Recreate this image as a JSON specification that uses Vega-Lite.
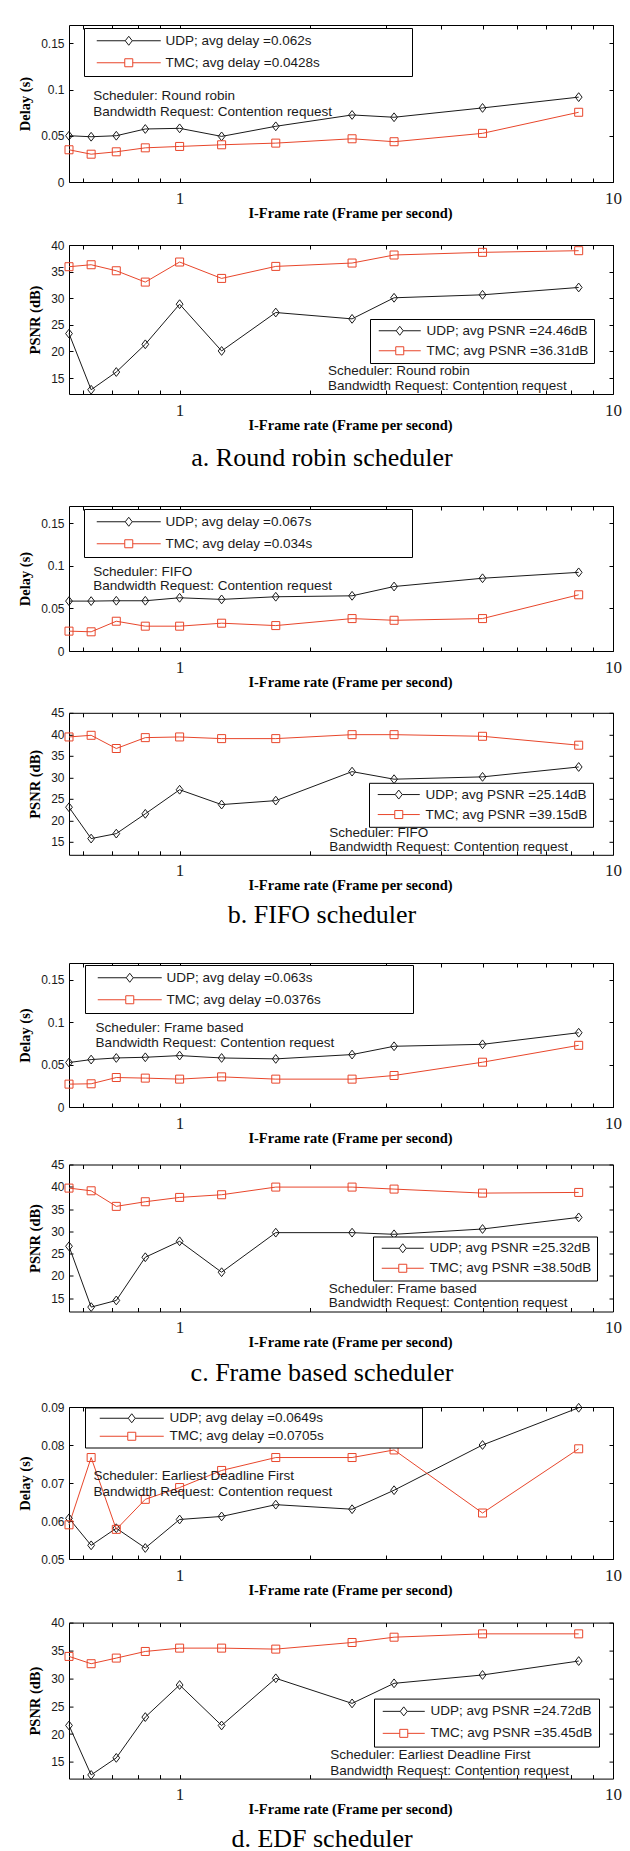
{
"$schema": "https://vega.github.io/schema/vega-lite/v6.json",
"padding": {"left": 16, "top": 24, "right": 5, "bottom": 0},
"background": "white",
"spacing": 0,
"datasets": {
"dA": [
{"x":0.5556,"s":"UDP","v":0.0501},{"x":0.625,"s":"UDP","v":0.049},{"x":0.7143,"s":"UDP","v":0.0501},{"x":0.8333,"s":"UDP","v":0.0574},{"x":1,"s":"UDP","v":0.0581},{"x":1.25,"s":"UDP","v":0.0494},{"x":1.6667,"s":"UDP","v":0.0603},{"x":2.5,"s":"UDP","v":0.0726},{"x":3.125,"s":"UDP","v":0.0701},{"x":5,"s":"UDP","v":0.0802},{"x":8.3333,"s":"UDP","v":0.0919},
{"x":0.5556,"s":"TMC","v":0.0349},{"x":0.625,"s":"TMC","v":0.0301},{"x":0.7143,"s":"TMC","v":0.0327},{"x":0.8333,"s":"TMC","v":0.037},{"x":1,"s":"TMC","v":0.0385},{"x":1.25,"s":"TMC","v":0.0403},{"x":1.6667,"s":"TMC","v":0.0421},{"x":2.5,"s":"TMC","v":0.0468},{"x":3.125,"s":"TMC","v":0.0436},{"x":5,"s":"TMC","v":0.0527},{"x":8.3333,"s":"TMC","v":0.0755}],
"pA": [
{"x":0.5556,"s":"UDP","v":23.35},{"x":0.625,"s":"UDP","v":12.8},{"x":0.7143,"s":"UDP","v":16.13},{"x":0.8333,"s":"UDP","v":21.34},{"x":1,"s":"UDP","v":28.88},{"x":1.25,"s":"UDP","v":20.09},{"x":1.6667,"s":"UDP","v":27.31},{"x":2.5,"s":"UDP","v":26.12},{"x":3.125,"s":"UDP","v":30.08},{"x":5,"s":"UDP","v":30.64},{"x":8.3333,"s":"UDP","v":32.02},
{"x":0.5556,"s":"TMC","v":35.92},{"x":0.625,"s":"TMC","v":36.29},{"x":0.7143,"s":"TMC","v":35.16},{"x":0.8333,"s":"TMC","v":33.03},{"x":1,"s":"TMC","v":36.8},{"x":1.25,"s":"TMC","v":33.72},{"x":1.6667,"s":"TMC","v":35.98},{"x":2.5,"s":"TMC","v":36.61},{"x":3.125,"s":"TMC","v":38.12},{"x":5,"s":"TMC","v":38.62},{"x":8.3333,"s":"TMC","v":38.93}],
"dB": [
{"x":0.5556,"s":"UDP","v":0.0585},{"x":0.625,"s":"UDP","v":0.0585},{"x":0.7143,"s":"UDP","v":0.0589},{"x":0.8333,"s":"UDP","v":0.0589},{"x":1,"s":"UDP","v":0.0624},{"x":1.25,"s":"UDP","v":0.0605},{"x":1.6667,"s":"UDP","v":0.0636},{"x":2.5,"s":"UDP","v":0.0647},{"x":3.125,"s":"UDP","v":0.0756},{"x":5,"s":"UDP","v":0.0853},{"x":8.3333,"s":"UDP","v":0.0922},
{"x":0.5556,"s":"TMC","v":0.0233},{"x":0.625,"s":"TMC","v":0.0225},{"x":0.7143,"s":"TMC","v":0.0349},{"x":0.8333,"s":"TMC","v":0.0291},{"x":1,"s":"TMC","v":0.0291},{"x":1.25,"s":"TMC","v":0.0326},{"x":1.6667,"s":"TMC","v":0.0298},{"x":2.5,"s":"TMC","v":0.038},{"x":3.125,"s":"TMC","v":0.036},{"x":5,"s":"TMC","v":0.038},{"x":8.3333,"s":"TMC","v":0.0659}],
"pB": [
{"x":0.5556,"s":"UDP","v":23.05},{"x":0.625,"s":"UDP","v":15.77},{"x":0.7143,"s":"UDP","v":16.92},{"x":0.8333,"s":"UDP","v":21.52},{"x":1,"s":"UDP","v":27.12},{"x":1.25,"s":"UDP","v":23.67},{"x":1.6667,"s":"UDP","v":24.59},{"x":2.5,"s":"UDP","v":31.33},{"x":3.125,"s":"UDP","v":29.57},{"x":5,"s":"UDP","v":30.11},{"x":8.3333,"s":"UDP","v":32.41},
{"x":0.5556,"s":"TMC","v":39.39},{"x":0.625,"s":"TMC","v":39.77},{"x":0.7143,"s":"TMC","v":36.7},{"x":0.8333,"s":"TMC","v":39.23},{"x":1,"s":"TMC","v":39.39},{"x":1.25,"s":"TMC","v":39.0},{"x":1.6667,"s":"TMC","v":39.0},{"x":2.5,"s":"TMC","v":39.92},{"x":3.125,"s":"TMC","v":39.92},{"x":5,"s":"TMC","v":39.54},{"x":8.3333,"s":"TMC","v":37.47}],
"dC": [
{"x":0.5556,"s":"UDP","v":0.0525},{"x":0.625,"s":"UDP","v":0.056},{"x":0.7143,"s":"UDP","v":0.0579},{"x":0.8333,"s":"UDP","v":0.0587},{"x":1,"s":"UDP","v":0.0607},{"x":1.25,"s":"UDP","v":0.0579},{"x":1.6667,"s":"UDP","v":0.0568},{"x":2.5,"s":"UDP","v":0.0619},{"x":3.125,"s":"UDP","v":0.0717},{"x":5,"s":"UDP","v":0.074},{"x":8.3333,"s":"UDP","v":0.0877},
{"x":0.5556,"s":"TMC","v":0.027},{"x":0.625,"s":"TMC","v":0.0274},{"x":0.7143,"s":"TMC","v":0.0348},{"x":0.8333,"s":"TMC","v":0.0341},{"x":1,"s":"TMC","v":0.0329},{"x":1.25,"s":"TMC","v":0.0356},{"x":1.6667,"s":"TMC","v":0.0329},{"x":2.5,"s":"TMC","v":0.0329},{"x":3.125,"s":"TMC","v":0.0372},{"x":5,"s":"TMC","v":0.0529},{"x":8.3333,"s":"TMC","v":0.0728}],
"pC": [
{"x":0.5556,"s":"UDP","v":26.64},{"x":0.625,"s":"UDP","v":12.99},{"x":0.7143,"s":"UDP","v":14.48},{"x":0.8333,"s":"UDP","v":24.18},{"x":1,"s":"UDP","v":27.76},{"x":1.25,"s":"UDP","v":20.82},{"x":1.6667,"s":"UDP","v":29.7},{"x":2.5,"s":"UDP","v":29.7},{"x":3.125,"s":"UDP","v":29.33},{"x":5,"s":"UDP","v":30.52},{"x":8.3333,"s":"UDP","v":33.13},
{"x":0.5556,"s":"TMC","v":39.7},{"x":0.625,"s":"TMC","v":39.1},{"x":0.7143,"s":"TMC","v":35.6},{"x":0.8333,"s":"TMC","v":36.64},{"x":1,"s":"TMC","v":37.61},{"x":1.25,"s":"TMC","v":38.21},{"x":1.6667,"s":"TMC","v":39.93},{"x":2.5,"s":"TMC","v":39.93},{"x":3.125,"s":"TMC","v":39.48},{"x":5,"s":"TMC","v":38.58},{"x":8.3333,"s":"TMC","v":38.73}],
"dD": [
{"x":0.5556,"s":"UDP","v":0.0607},{"x":0.625,"s":"UDP","v":0.0536},{"x":0.7143,"s":"UDP","v":0.0581},{"x":0.8333,"s":"UDP","v":0.0529},{"x":1,"s":"UDP","v":0.0604},{"x":1.25,"s":"UDP","v":0.0612},{"x":1.6667,"s":"UDP","v":0.0643},{"x":2.5,"s":"UDP","v":0.0631},{"x":3.125,"s":"UDP","v":0.0681},{"x":5,"s":"UDP","v":0.08},{"x":8.3333,"s":"UDP","v":0.0898},
{"x":0.5556,"s":"TMC","v":0.059},{"x":0.625,"s":"TMC","v":0.0767},{"x":0.7143,"s":"TMC","v":0.0578},{"x":0.8333,"s":"TMC","v":0.0657},{"x":1,"s":"TMC","v":0.0688},{"x":1.25,"s":"TMC","v":0.0733},{"x":1.6667,"s":"TMC","v":0.0767},{"x":2.5,"s":"TMC","v":0.0767},{"x":3.125,"s":"TMC","v":0.0787},{"x":5,"s":"TMC","v":0.0621},{"x":8.3333,"s":"TMC","v":0.079}],
"pD": [
{"x":0.5556,"s":"UDP","v":21.54},{"x":0.625,"s":"UDP","v":12.66},{"x":0.7143,"s":"UDP","v":15.72},{"x":0.8333,"s":"UDP","v":23.04},{"x":1,"s":"UDP","v":28.8},{"x":1.25,"s":"UDP","v":21.54},{"x":1.6667,"s":"UDP","v":30.0},{"x":2.5,"s":"UDP","v":25.5},{"x":3.125,"s":"UDP","v":29.1},{"x":5,"s":"UDP","v":30.6},{"x":8.3333,"s":"UDP","v":33.1},
{"x":0.5556,"s":"TMC","v":33.93},{"x":0.625,"s":"TMC","v":32.62},{"x":0.7143,"s":"TMC","v":33.63},{"x":0.8333,"s":"TMC","v":34.82},{"x":1,"s":"TMC","v":35.42},{"x":1.25,"s":"TMC","v":35.42},{"x":1.6667,"s":"TMC","v":35.24},{"x":2.5,"s":"TMC","v":36.43},{"x":3.125,"s":"TMC","v":37.38},{"x":5,"s":"TMC","v":37.98},{"x":8.3333,"s":"TMC","v":37.98}]
},
"vconcat": [
{"spacing": 18, "resolve": {"scale": {"color": "independent"}}, "vconcat": [
 {"width": 544, "height": 157, "data": {"name": "dA"},
  "layer": [
   {"mark": {"type": "line", "strokeWidth": 1},
    "encoding": {
     "x": {"field": "x", "type": "quantitative", "scale": {"type": "log", "domain": [0.5556, 10], "nice": false}, "axis": {"orient": "bottom", "values": [0.6,0.7,0.8,0.9,1,2,3,4,5,6,7,8,9,10], "labelExpr": "datum.value == 1 ? '1' : (datum.value == 10 ? '10' : '')", "title": "I-Frame rate (Frame per second)"}},
     "y": {"field": "v", "type": "quantitative", "scale": {"domain": [0, 0.17], "nice": false, "zero": false}, "axis": {"orient": "left", "values": [0, 0.05, 0.1, 0.15], "format": "~g", "title": "Delay (s)"}},
     "color": {"field": "s", "type": "nominal", "scale": {"domain": ["UDP", "TMC"], "range": ["#1a1a1a", "#e8462b"]},
      "legend": {"orient": "none", "legendX": 15, "legendY": 3, "title": null, "padding": 6, "rowPadding": 7, "symbolOffset": 32, "labelOffset": 30, "labelLimit": 1000,
       "labelExpr": "pad(datum.value == 'UDP' ? 'UDP; avg delay =0.062s' : 'TMC; avg delay =0.0428s', 46, '\u00a0') + '\u200b'",
       "encode": {"symbols": {"update": {"shape": {"signal": "datum.value == 'UDP' ? 'M-6.4,0H-0.7M-0.7,0L0,-0.9L0.7,0L0,0.9ZM0.7,0H6.4' : 'M-6.4,0H-0.8M-0.8,-0.8H0.8V0.8H-0.8ZM0.8,0H6.4'"}, "size": {"value": 100}, "fill": {"value": "transparent"}, "strokeWidth": {"value": 1}, "opacity": {"value": 1}}}}}}
    }},
   {"transform": [{"filter": "datum.s == 'UDP'"}],
    "mark": {"type": "point", "shape": "M0,-1.1L0.85,0L0,1.1L-0.85,0Z", "filled": false, "strokeWidth": 1, "size": 64, "opacity": 1},
    "encoding": {
     "x": {"field": "x", "type": "quantitative", "scale": {"type": "log", "domain": [0.5556, 10], "nice": false}, "axis": {"orient": "top", "values": [0.6,0.7,0.8,0.9,1,2,3,4,5,6,7,8,9,10], "labels": false, "title": null}},
     "y": {"field": "v", "type": "quantitative", "scale": {"domain": [0, 0.17], "nice": false, "zero": false}, "axis": {"orient": "right", "values": [0, 0.05, 0.1, 0.15], "labels": false, "title": null}},
     "color": {"field": "s", "type": "nominal", "scale": {"domain": ["UDP", "TMC"], "range": ["#1a1a1a", "#e8462b"]}}
    }},
   {"transform": [{"filter": "datum.s == 'TMC'"}],
    "mark": {"type": "point", "shape": "square", "filled": false, "strokeWidth": 1, "size": 64, "opacity": 1},
    "encoding": {
     "x": {"field": "x", "type": "quantitative", "scale": {"type": "log", "domain": [0.5556, 10], "nice": false}, "axis": null},
     "y": {"field": "v", "type": "quantitative", "scale": {"domain": [0, 0.17], "nice": false, "zero": false}, "axis": null},
     "color": {"field": "s", "type": "nominal", "scale": {"domain": ["UDP", "TMC"], "range": ["#1a1a1a", "#e8462b"]}}
    }},
   {"data": {"values": [{"x": 0.632, "y": 0.0931, "t": "Scheduler: Round robin"}, {"x": 0.632, "y": 0.0761, "t": "Bandwidth Request: Contention request"}]},
    "mark": {"type": "text", "align": "left", "baseline": "middle", "font": "Liberation Sans", "fontSize": 13.5, "color": "#1a1a1a"},
    "encoding": {
     "x": {"field": "x", "type": "quantitative", "scale": {"type": "log", "domain": [0.5556, 10], "nice": false}, "axis": null},
     "y": {"field": "y", "type": "quantitative", "scale": {"domain": [0, 0.17], "nice": false, "zero": false}, "axis": null},
     "text": {"field": "t", "type": "nominal"}
    }}
  ],
  "resolve": {"axis": {"x": "independent", "y": "independent"}}
 },
 {"width": 544, "height": 149, "data": {"name": "pA"},
  "layer": [
   {"mark": {"type": "line", "strokeWidth": 1},
    "encoding": {
     "x": {"field": "x", "type": "quantitative", "scale": {"type": "log", "domain": [0.5556, 10], "nice": false}, "axis": {"orient": "bottom", "values": [0.6,0.7,0.8,0.9,1,2,3,4,5,6,7,8,9,10], "labelExpr": "datum.value == 1 ? '1' : (datum.value == 10 ? '10' : '')", "title": "I-Frame rate (Frame per second)"}},
     "y": {"field": "v", "type": "quantitative", "scale": {"domain": [12, 40], "nice": false, "zero": false}, "axis": {"orient": "left", "values": [15, 20, 25, 30, 35, 40], "format": "d", "title": "PSNR (dB)"}},
     "color": {"field": "s", "type": "nominal", "scale": {"domain": ["UDP", "TMC"], "range": ["#1a1a1a", "#e8462b"]},
      "legend": {"orient": "none", "legendX": 301, "legendY": 74, "title": null, "padding": 5, "rowPadding": 5, "symbolOffset": 18, "labelOffset": 20, "labelLimit": 1000,
       "labelExpr": "datum.value == 'UDP' ? 'UDP; avg PSNR =24.46dB' : 'TMC; avg PSNR =36.31dB'",
       "encode": {"symbols": {"update": {"shape": {"signal": "datum.value == 'UDP' ? 'M-4.2,0H-0.7M-0.7,0L0,-0.9L0.7,0L0,0.9ZM0.7,0H4.2' : 'M-4.2,0H-0.8M-0.8,-0.8H0.8V0.8H-0.8ZM0.8,0H4.2'"}, "size": {"value": 100}, "fill": {"value": "transparent"}, "strokeWidth": {"value": 1}, "opacity": {"value": 1}}}}}}
    }},
   {"transform": [{"filter": "datum.s == 'UDP'"}],
    "mark": {"type": "point", "shape": "M0,-1.1L0.85,0L0,1.1L-0.85,0Z", "filled": false, "strokeWidth": 1, "size": 64, "opacity": 1},
    "encoding": {
     "x": {"field": "x", "type": "quantitative", "scale": {"type": "log", "domain": [0.5556, 10], "nice": false}, "axis": {"orient": "top", "values": [0.6,0.7,0.8,0.9,1,2,3,4,5,6,7,8,9,10], "labels": false, "title": null}},
     "y": {"field": "v", "type": "quantitative", "scale": {"domain": [12, 40], "nice": false, "zero": false}, "axis": {"orient": "right", "values": [15, 20, 25, 30, 35, 40], "labels": false, "title": null}},
     "color": {"field": "s", "type": "nominal", "scale": {"domain": ["UDP", "TMC"], "range": ["#1a1a1a", "#e8462b"]}}
    }},
   {"transform": [{"filter": "datum.s == 'TMC'"}],
    "mark": {"type": "point", "shape": "square", "filled": false, "strokeWidth": 1, "size": 64, "opacity": 1},
    "encoding": {
     "x": {"field": "x", "type": "quantitative", "scale": {"type": "log", "domain": [0.5556, 10], "nice": false}, "axis": null},
     "y": {"field": "v", "type": "quantitative", "scale": {"domain": [12, 40], "nice": false, "zero": false}, "axis": null},
     "color": {"field": "s", "type": "nominal", "scale": {"domain": ["UDP", "TMC"], "range": ["#1a1a1a", "#e8462b"]}}
    }},
   {"data": {"values": [{"x": 2.2, "y": 16.32, "t": "Scheduler: Round robin"}, {"x": 2.2, "y": 13.43, "t": "Bandwidth Request: Contention request"}]},
    "mark": {"type": "text", "align": "left", "baseline": "middle", "font": "Liberation Sans", "fontSize": 13.5, "color": "#1a1a1a"},
    "encoding": {
     "x": {"field": "x", "type": "quantitative", "scale": {"type": "log", "domain": [0.5556, 10], "nice": false}, "axis": null},
     "y": {"field": "y", "type": "quantitative", "scale": {"domain": [12, 40], "nice": false, "zero": false}, "axis": null},
     "text": {"field": "t", "type": "nominal"}
    }}
  ],
  "resolve": {"axis": {"x": "independent", "y": "independent"}}
 }
]},
{"width": 506, "height": 72.5, "view": {"stroke": null}, "data": {"values": [{"c": "a. Round robin scheduler"}]},
 "mark": {"type": "text", "font": "Liberation Serif", "fontSize": 26, "baseline": "alphabetic", "dy": -2.75, "color": "black"},
 "encoding": {"text": {"field": "c", "type": "nominal"}}},
{"spacing": 16.8, "resolve": {"scale": {"color": "independent"}}, "vconcat": [
 {"width": 544, "height": 145, "data": {"name": "dB"},
  "layer": [
   {"mark": {"type": "line", "strokeWidth": 1},
    "encoding": {
     "x": {"field": "x", "type": "quantitative", "scale": {"type": "log", "domain": [0.5556, 10], "nice": false}, "axis": {"orient": "bottom", "values": [0.6,0.7,0.8,0.9,1,2,3,4,5,6,7,8,9,10], "labelExpr": "datum.value == 1 ? '1' : (datum.value == 10 ? '10' : '')", "title": "I-Frame rate (Frame per second)"}},
     "y": {"field": "v", "type": "quantitative", "scale": {"domain": [0, 0.17], "nice": false, "zero": false}, "axis": {"orient": "left", "values": [0, 0.05, 0.1, 0.15], "format": "~g", "title": "Delay (s)"}},
     "color": {"field": "s", "type": "nominal", "scale": {"domain": ["UDP", "TMC"], "range": ["#1a1a1a", "#e8462b"]},
      "legend": {"orient": "none", "legendX": 15, "legendY": 3, "title": null, "padding": 6, "rowPadding": 7, "symbolOffset": 32, "labelOffset": 30, "labelLimit": 1000,
       "labelExpr": "pad(datum.value == 'UDP' ? 'UDP; avg delay =0.067s' : 'TMC; avg delay =0.034s', 47, '\u00a0') + '\u200b'",
       "encode": {"symbols": {"update": {"shape": {"signal": "datum.value == 'UDP' ? 'M-6.4,0H-0.7M-0.7,0L0,-0.9L0.7,0L0,0.9ZM0.7,0H6.4' : 'M-6.4,0H-0.8M-0.8,-0.8H0.8V0.8H-0.8ZM0.8,0H6.4'"}, "size": {"value": 100}, "fill": {"value": "transparent"}, "strokeWidth": {"value": 1}, "opacity": {"value": 1}}}}}}
    }},
   {"transform": [{"filter": "datum.s == 'UDP'"}],
    "mark": {"type": "point", "shape": "M0,-1.1L0.85,0L0,1.1L-0.85,0Z", "filled": false, "strokeWidth": 1, "size": 64, "opacity": 1},
    "encoding": {
     "x": {"field": "x", "type": "quantitative", "scale": {"type": "log", "domain": [0.5556, 10], "nice": false}, "axis": {"orient": "top", "values": [0.6,0.7,0.8,0.9,1,2,3,4,5,6,7,8,9,10], "labels": false, "title": null}},
     "y": {"field": "v", "type": "quantitative", "scale": {"domain": [0, 0.17], "nice": false, "zero": false}, "axis": {"orient": "right", "values": [0, 0.05, 0.1, 0.15], "labels": false, "title": null}},
     "color": {"field": "s", "type": "nominal", "scale": {"domain": ["UDP", "TMC"], "range": ["#1a1a1a", "#e8462b"]}}
    }},
   {"transform": [{"filter": "datum.s == 'TMC'"}],
    "mark": {"type": "point", "shape": "square", "filled": false, "strokeWidth": 1, "size": 64, "opacity": 1},
    "encoding": {
     "x": {"field": "x", "type": "quantitative", "scale": {"type": "log", "domain": [0.5556, 10], "nice": false}, "axis": null},
     "y": {"field": "v", "type": "quantitative", "scale": {"domain": [0, 0.17], "nice": false, "zero": false}, "axis": null},
     "color": {"field": "s", "type": "nominal", "scale": {"domain": ["UDP", "TMC"], "range": ["#1a1a1a", "#e8462b"]}}
    }},
   {"data": {"values": [{"x": 0.632, "y": 0.093, "t": "Scheduler: FIFO"}, {"x": 0.632, "y": 0.076, "t": "Bandwidth Request: Contention request"}]},
    "mark": {"type": "text", "align": "left", "baseline": "middle", "font": "Liberation Sans", "fontSize": 13.5, "color": "#1a1a1a"},
    "encoding": {
     "x": {"field": "x", "type": "quantitative", "scale": {"type": "log", "domain": [0.5556, 10], "nice": false}, "axis": null},
     "y": {"field": "y", "type": "quantitative", "scale": {"domain": [0, 0.17], "nice": false, "zero": false}, "axis": null},
     "text": {"field": "t", "type": "nominal"}
    }}
  ],
  "resolve": {"axis": {"x": "independent", "y": "independent"}}
 },
 {"width": 544, "height": 142, "data": {"name": "pB"},
  "layer": [
   {"mark": {"type": "line", "strokeWidth": 1},
    "encoding": {
     "x": {"field": "x", "type": "quantitative", "scale": {"type": "log", "domain": [0.5556, 10], "nice": false}, "axis": {"orient": "bottom", "values": [0.6,0.7,0.8,0.9,1,2,3,4,5,6,7,8,9,10], "labelExpr": "datum.value == 1 ? '1' : (datum.value == 10 ? '10' : '')", "title": "I-Frame rate (Frame per second)"}},
     "y": {"field": "v", "type": "quantitative", "scale": {"domain": [12, 45], "nice": false, "zero": false}, "axis": {"orient": "left", "values": [15, 20, 25, 30, 35, 40, 45], "format": "d", "title": "PSNR (dB)"}},
     "color": {"field": "s", "type": "nominal", "scale": {"domain": ["UDP", "TMC"], "range": ["#1a1a1a", "#e8462b"]},
      "legend": {"orient": "none", "legendX": 300, "legendY": 70, "title": null, "padding": 5, "rowPadding": 5, "symbolOffset": 18, "labelOffset": 20, "labelLimit": 1000,
       "labelExpr": "datum.value == 'UDP' ? 'UDP; avg PSNR =25.14dB' : 'TMC; avg PSNR =39.15dB'",
       "encode": {"symbols": {"update": {"shape": {"signal": "datum.value == 'UDP' ? 'M-4.2,0H-0.7M-0.7,0L0,-0.9L0.7,0L0,0.9ZM0.7,0H4.2' : 'M-4.2,0H-0.8M-0.8,-0.8H0.8V0.8H-0.8ZM0.8,0H4.2'"}, "size": {"value": 100}, "fill": {"value": "transparent"}, "strokeWidth": {"value": 1}, "opacity": {"value": 1}}}}}}
    }},
   {"transform": [{"filter": "datum.s == 'UDP'"}],
    "mark": {"type": "point", "shape": "M0,-1.1L0.85,0L0,1.1L-0.85,0Z", "filled": false, "strokeWidth": 1, "size": 64, "opacity": 1},
    "encoding": {
     "x": {"field": "x", "type": "quantitative", "scale": {"type": "log", "domain": [0.5556, 10], "nice": false}, "axis": {"orient": "top", "values": [0.6,0.7,0.8,0.9,1,2,3,4,5,6,7,8,9,10], "labels": false, "title": null}},
     "y": {"field": "v", "type": "quantitative", "scale": {"domain": [12, 45], "nice": false, "zero": false}, "axis": {"orient": "right", "values": [15, 20, 25, 30, 35, 40, 45], "labels": false, "title": null}},
     "color": {"field": "s", "type": "nominal", "scale": {"domain": ["UDP", "TMC"], "range": ["#1a1a1a", "#e8462b"]}}
    }},
   {"transform": [{"filter": "datum.s == 'TMC'"}],
    "mark": {"type": "point", "shape": "square", "filled": false, "strokeWidth": 1, "size": 64, "opacity": 1},
    "encoding": {
     "x": {"field": "x", "type": "quantitative", "scale": {"type": "log", "domain": [0.5556, 10], "nice": false}, "axis": null},
     "y": {"field": "v", "type": "quantitative", "scale": {"domain": [12, 45], "nice": false, "zero": false}, "axis": null},
     "color": {"field": "s", "type": "nominal", "scale": {"domain": ["UDP", "TMC"], "range": ["#1a1a1a", "#e8462b"]}}
    }},
   {"data": {"values": [{"x": 2.215, "y": 17.15, "t": "Scheduler: FIFO"}, {"x": 2.215, "y": 13.7, "t": "Bandwidth Request: Contention request"}]},
    "mark": {"type": "text", "align": "left", "baseline": "middle", "font": "Liberation Sans", "fontSize": 13.5, "color": "#1a1a1a"},
    "encoding": {
     "x": {"field": "x", "type": "quantitative", "scale": {"type": "log", "domain": [0.5556, 10], "nice": false}, "axis": null},
     "y": {"field": "y", "type": "quantitative", "scale": {"domain": [12, 45], "nice": false, "zero": false}, "axis": null},
     "text": {"field": "t", "type": "nominal"}
    }}
  ],
  "resolve": {"axis": {"x": "independent", "y": "independent"}}
 }
]},
{"width": 506, "height": 68.4, "view": {"stroke": null}, "data": {"values": [{"c": "b. FIFO scheduler"}]},
 "mark": {"type": "text", "font": "Liberation Serif", "fontSize": 26, "baseline": "alphabetic", "dy": -4.6, "color": "black"},
 "encoding": {"text": {"field": "c", "type": "nominal"}}},
{"spacing": 12.5, "resolve": {"scale": {"color": "independent"}}, "vconcat": [
 {"width": 544, "height": 144, "data": {"name": "dC"},
  "layer": [
   {"mark": {"type": "line", "strokeWidth": 1},
    "encoding": {
     "x": {"field": "x", "type": "quantitative", "scale": {"type": "log", "domain": [0.5556, 10], "nice": false}, "axis": {"orient": "bottom", "values": [0.6,0.7,0.8,0.9,1,2,3,4,5,6,7,8,9,10], "labelExpr": "datum.value == 1 ? '1' : (datum.value == 10 ? '10' : '')", "title": "I-Frame rate (Frame per second)"}},
     "y": {"field": "v", "type": "quantitative", "scale": {"domain": [0, 0.17], "nice": false, "zero": false}, "axis": {"orient": "left", "values": [0, 0.05, 0.1, 0.15], "format": "~g", "title": "Delay (s)"}},
     "color": {"field": "s", "type": "nominal", "scale": {"domain": ["UDP", "TMC"], "range": ["#1a1a1a", "#e8462b"]},
      "legend": {"orient": "none", "legendX": 16, "legendY": 2, "title": null, "padding": 6, "rowPadding": 7, "symbolOffset": 32, "labelOffset": 30, "labelLimit": 1000,
       "labelExpr": "pad(datum.value == 'UDP' ? 'UDP; avg delay =0.063s' : 'TMC; avg delay =0.0376s', 46, '\u00a0') + '\u200b'",
       "encode": {"symbols": {"update": {"shape": {"signal": "datum.value == 'UDP' ? 'M-6.4,0H-0.7M-0.7,0L0,-0.9L0.7,0L0,0.9ZM0.7,0H6.4' : 'M-6.4,0H-0.8M-0.8,-0.8H0.8V0.8H-0.8ZM0.8,0H6.4'"}, "size": {"value": 100}, "fill": {"value": "transparent"}, "strokeWidth": {"value": 1}, "opacity": {"value": 1}}}}}}
    }},
   {"transform": [{"filter": "datum.s == 'UDP'"}],
    "mark": {"type": "point", "shape": "M0,-1.1L0.85,0L0,1.1L-0.85,0Z", "filled": false, "strokeWidth": 1, "size": 64, "opacity": 1},
    "encoding": {
     "x": {"field": "x", "type": "quantitative", "scale": {"type": "log", "domain": [0.5556, 10], "nice": false}, "axis": {"orient": "top", "values": [0.6,0.7,0.8,0.9,1,2,3,4,5,6,7,8,9,10], "labels": false, "title": null}},
     "y": {"field": "v", "type": "quantitative", "scale": {"domain": [0, 0.17], "nice": false, "zero": false}, "axis": {"orient": "right", "values": [0, 0.05, 0.1, 0.15], "labels": false, "title": null}},
     "color": {"field": "s", "type": "nominal", "scale": {"domain": ["UDP", "TMC"], "range": ["#1a1a1a", "#e8462b"]}}
    }},
   {"transform": [{"filter": "datum.s == 'TMC'"}],
    "mark": {"type": "point", "shape": "square", "filled": false, "strokeWidth": 1, "size": 64, "opacity": 1},
    "encoding": {
     "x": {"field": "x", "type": "quantitative", "scale": {"type": "log", "domain": [0.5556, 10], "nice": false}, "axis": null},
     "y": {"field": "v", "type": "quantitative", "scale": {"domain": [0, 0.17], "nice": false, "zero": false}, "axis": null},
     "color": {"field": "s", "type": "nominal", "scale": {"domain": ["UDP", "TMC"], "range": ["#1a1a1a", "#e8462b"]}}
    }},
   {"data": {"values": [{"x": 0.64, "y": 0.0936, "t": "Scheduler: Frame based"}, {"x": 0.64, "y": 0.076, "t": "Bandwidth Request: Contention request"}]},
    "mark": {"type": "text", "align": "left", "baseline": "middle", "font": "Liberation Sans", "fontSize": 13.5, "color": "#1a1a1a"},
    "encoding": {
     "x": {"field": "x", "type": "quantitative", "scale": {"type": "log", "domain": [0.5556, 10], "nice": false}, "axis": null},
     "y": {"field": "y", "type": "quantitative", "scale": {"domain": [0, 0.17], "nice": false, "zero": false}, "axis": null},
     "text": {"field": "t", "type": "nominal"}
    }}
  ],
  "resolve": {"axis": {"x": "independent", "y": "independent"}}
 },
 {"width": 544, "height": 147, "data": {"name": "pC"},
  "layer": [
   {"mark": {"type": "line", "strokeWidth": 1},
    "encoding": {
     "x": {"field": "x", "type": "quantitative", "scale": {"type": "log", "domain": [0.5556, 10], "nice": false}, "axis": {"orient": "bottom", "values": [0.6,0.7,0.8,0.9,1,2,3,4,5,6,7,8,9,10], "labelExpr": "datum.value == 1 ? '1' : (datum.value == 10 ? '10' : '')", "title": "I-Frame rate (Frame per second)"}},
     "y": {"field": "v", "type": "quantitative", "scale": {"domain": [12, 45], "nice": false, "zero": false}, "axis": {"orient": "left", "values": [15, 20, 25, 30, 35, 40, 45], "format": "d", "title": "PSNR (dB)"}},
     "color": {"field": "s", "type": "nominal", "scale": {"domain": ["UDP", "TMC"], "range": ["#1a1a1a", "#e8462b"]},
      "legend": {"orient": "none", "legendX": 304, "legendY": 72, "title": null, "padding": 5, "rowPadding": 5, "symbolOffset": 18, "labelOffset": 20, "labelLimit": 1000,
       "labelExpr": "datum.value == 'UDP' ? 'UDP; avg PSNR =25.32dB' : 'TMC; avg PSNR =38.50dB'",
       "encode": {"symbols": {"update": {"shape": {"signal": "datum.value == 'UDP' ? 'M-4.2,0H-0.7M-0.7,0L0,-0.9L0.7,0L0,0.9ZM0.7,0H4.2' : 'M-4.2,0H-0.8M-0.8,-0.8H0.8V0.8H-0.8ZM0.8,0H4.2'"}, "size": {"value": 100}, "fill": {"value": "transparent"}, "strokeWidth": {"value": 1}, "opacity": {"value": 1}}}}}}
    }},
   {"transform": [{"filter": "datum.s == 'UDP'"}],
    "mark": {"type": "point", "shape": "M0,-1.1L0.85,0L0,1.1L-0.85,0Z", "filled": false, "strokeWidth": 1, "size": 64, "opacity": 1},
    "encoding": {
     "x": {"field": "x", "type": "quantitative", "scale": {"type": "log", "domain": [0.5556, 10], "nice": false}, "axis": {"orient": "top", "values": [0.6,0.7,0.8,0.9,1,2,3,4,5,6,7,8,9,10], "labels": false, "title": null}},
     "y": {"field": "v", "type": "quantitative", "scale": {"domain": [12, 45], "nice": false, "zero": false}, "axis": {"orient": "right", "values": [15, 20, 25, 30, 35, 40, 45], "labels": false, "title": null}},
     "color": {"field": "s", "type": "nominal", "scale": {"domain": ["UDP", "TMC"], "range": ["#1a1a1a", "#e8462b"]}}
    }},
   {"transform": [{"filter": "datum.s == 'TMC'"}],
    "mark": {"type": "point", "shape": "square", "filled": false, "strokeWidth": 1, "size": 64, "opacity": 1},
    "encoding": {
     "x": {"field": "x", "type": "quantitative", "scale": {"type": "log", "domain": [0.5556, 10], "nice": false}, "axis": null},
     "y": {"field": "v", "type": "quantitative", "scale": {"domain": [12, 45], "nice": false, "zero": false}, "axis": null},
     "color": {"field": "s", "type": "nominal", "scale": {"domain": ["UDP", "TMC"], "range": ["#1a1a1a", "#e8462b"]}}
    }},
   {"data": {"values": [{"x": 2.21, "y": 17.09, "t": "Scheduler: Frame based"}, {"x": 2.21, "y": 13.96, "t": "Bandwidth Request: Contention request"}]},
    "mark": {"type": "text", "align": "left", "baseline": "middle", "font": "Liberation Sans", "fontSize": 13.5, "color": "#1a1a1a"},
    "encoding": {
     "x": {"field": "x", "type": "quantitative", "scale": {"type": "log", "domain": [0.5556, 10], "nice": false}, "axis": null},
     "y": {"field": "y", "type": "quantitative", "scale": {"domain": [12, 45], "nice": false, "zero": false}, "axis": null},
     "text": {"field": "t", "type": "nominal"}
    }}
  ],
  "resolve": {"axis": {"x": "independent", "y": "independent"}}
 }
]},
{"width": 506, "height": 49.3, "view": {"stroke": null}, "data": {"values": [{"c": "c. Frame based scheduler"}]},
 "mark": {"type": "text", "font": "Liberation Serif", "fontSize": 26, "baseline": "alphabetic", "dy": 6.25, "color": "black"},
 "encoding": {"text": {"field": "c", "type": "nominal"}}},
{"spacing": 18.6, "resolve": {"scale": {"color": "independent"}}, "vconcat": [
 {"width": 544, "height": 152, "data": {"name": "dD"},
  "layer": [
   {"mark": {"type": "line", "strokeWidth": 1},
    "encoding": {
     "x": {"field": "x", "type": "quantitative", "scale": {"type": "log", "domain": [0.5556, 10], "nice": false}, "axis": {"orient": "bottom", "values": [0.6,0.7,0.8,0.9,1,2,3,4,5,6,7,8,9,10], "labelExpr": "datum.value == 1 ? '1' : (datum.value == 10 ? '10' : '')", "title": "I-Frame rate (Frame per second)"}},
     "y": {"field": "v", "type": "quantitative", "scale": {"domain": [0.05, 0.09], "nice": false, "zero": false}, "axis": {"orient": "left", "values": [0.05, 0.06, 0.07, 0.08, 0.09], "format": "~g", "title": "Delay (s)"}},
     "color": {"field": "s", "type": "nominal", "scale": {"domain": ["UDP", "TMC"], "range": ["#1a1a1a", "#e8462b"]},
      "legend": {"orient": "none", "legendX": 16, "legendY": 0.5, "title": null, "padding": 4, "rowPadding": 3, "symbolOffset": 36, "labelOffset": 31, "labelLimit": 1000,
       "labelExpr": "pad(datum.value == 'UDP' ? 'UDP; avg delay =0.0649s' : 'TMC; avg delay =0.0705s', 48, '\u00a0') + '\u200b'",
       "encode": {"symbols": {"update": {"shape": {"signal": "datum.value == 'UDP' ? 'M-6.4,0H-0.7M-0.7,0L0,-0.9L0.7,0L0,0.9ZM0.7,0H6.4' : 'M-6.4,0H-0.8M-0.8,-0.8H0.8V0.8H-0.8ZM0.8,0H6.4'"}, "size": {"value": 100}, "fill": {"value": "transparent"}, "strokeWidth": {"value": 1}, "opacity": {"value": 1}}}}}}
    }},
   {"transform": [{"filter": "datum.s == 'UDP'"}],
    "mark": {"type": "point", "shape": "M0,-1.1L0.85,0L0,1.1L-0.85,0Z", "filled": false, "strokeWidth": 1, "size": 64, "opacity": 1},
    "encoding": {
     "x": {"field": "x", "type": "quantitative", "scale": {"type": "log", "domain": [0.5556, 10], "nice": false}, "axis": {"orient": "top", "values": [0.6,0.7,0.8,0.9,1,2,3,4,5,6,7,8,9,10], "labels": false, "title": null}},
     "y": {"field": "v", "type": "quantitative", "scale": {"domain": [0.05, 0.09], "nice": false, "zero": false}, "axis": {"orient": "right", "values": [0.05, 0.06, 0.07, 0.08, 0.09], "labels": false, "title": null}},
     "color": {"field": "s", "type": "nominal", "scale": {"domain": ["UDP", "TMC"], "range": ["#1a1a1a", "#e8462b"]}}
    }},
   {"transform": [{"filter": "datum.s == 'TMC'"}],
    "mark": {"type": "point", "shape": "square", "filled": false, "strokeWidth": 1, "size": 64, "opacity": 1},
    "encoding": {
     "x": {"field": "x", "type": "quantitative", "scale": {"type": "log", "domain": [0.5556, 10], "nice": false}, "axis": null},
     "y": {"field": "v", "type": "quantitative", "scale": {"domain": [0.05, 0.09], "nice": false, "zero": false}, "axis": null},
     "color": {"field": "s", "type": "nominal", "scale": {"domain": ["UDP", "TMC"], "range": ["#1a1a1a", "#e8462b"]}}
    }},
   {"data": {"values": [{"x": 0.633, "y": 0.0718, "t": "Scheduler: Earliest Deadline First"}, {"x": 0.633, "y": 0.0676, "t": "Bandwidth Request: Contention request"}]},
    "mark": {"type": "text", "align": "left", "baseline": "middle", "font": "Liberation Sans", "fontSize": 13.5, "color": "#1a1a1a"},
    "encoding": {
     "x": {"field": "x", "type": "quantitative", "scale": {"type": "log", "domain": [0.5556, 10], "nice": false}, "axis": null},
     "y": {"field": "y", "type": "quantitative", "scale": {"domain": [0.05, 0.09], "nice": false, "zero": false}, "axis": null},
     "text": {"field": "t", "type": "nominal"}
    }}
  ],
  "resolve": {"axis": {"x": "independent", "y": "independent"}}
 },
 {"width": 544, "height": 156, "data": {"name": "pD"},
  "layer": [
   {"mark": {"type": "line", "strokeWidth": 1},
    "encoding": {
     "x": {"field": "x", "type": "quantitative", "scale": {"type": "log", "domain": [0.5556, 10], "nice": false}, "axis": {"orient": "bottom", "values": [0.6,0.7,0.8,0.9,1,2,3,4,5,6,7,8,9,10], "labelExpr": "datum.value == 1 ? '1' : (datum.value == 10 ? '10' : '')", "title": "I-Frame rate (Frame per second)"}},
     "y": {"field": "v", "type": "quantitative", "scale": {"domain": [12, 40], "nice": false, "zero": false}, "axis": {"orient": "left", "values": [15, 20, 25, 30, 35, 40], "format": "d", "title": "PSNR (dB)"}},
     "color": {"field": "s", "type": "nominal", "scale": {"domain": ["UDP", "TMC"], "range": ["#1a1a1a", "#e8462b"]},
      "legend": {"orient": "none", "legendX": 305, "legendY": 76, "title": null, "padding": 6, "rowPadding": 7, "symbolOffset": 17, "labelOffset": 20, "labelLimit": 1000,
       "labelExpr": "datum.value == 'UDP' ? 'UDP; avg PSNR =24.72dB' : 'TMC; avg PSNR =35.45dB'",
       "encode": {"symbols": {"update": {"shape": {"signal": "datum.value == 'UDP' ? 'M-4.2,0H-0.7M-0.7,0L0,-0.9L0.7,0L0,0.9ZM0.7,0H4.2' : 'M-4.2,0H-0.8M-0.8,-0.8H0.8V0.8H-0.8ZM0.8,0H4.2'"}, "size": {"value": 100}, "fill": {"value": "transparent"}, "strokeWidth": {"value": 1}, "opacity": {"value": 1}}}}}}
    }},
   {"transform": [{"filter": "datum.s == 'UDP'"}],
    "mark": {"type": "point", "shape": "M0,-1.1L0.85,0L0,1.1L-0.85,0Z", "filled": false, "strokeWidth": 1, "size": 64, "opacity": 1},
    "encoding": {
     "x": {"field": "x", "type": "quantitative", "scale": {"type": "log", "domain": [0.5556, 10], "nice": false}, "axis": {"orient": "top", "values": [0.6,0.7,0.8,0.9,1,2,3,4,5,6,7,8,9,10], "labels": false, "title": null}},
     "y": {"field": "v", "type": "quantitative", "scale": {"domain": [12, 40], "nice": false, "zero": false}, "axis": {"orient": "right", "values": [15, 20, 25, 30, 35, 40], "labels": false, "title": null}},
     "color": {"field": "s", "type": "nominal", "scale": {"domain": ["UDP", "TMC"], "range": ["#1a1a1a", "#e8462b"]}}
    }},
   {"transform": [{"filter": "datum.s == 'TMC'"}],
    "mark": {"type": "point", "shape": "square", "filled": false, "strokeWidth": 1, "size": 64, "opacity": 1},
    "encoding": {
     "x": {"field": "x", "type": "quantitative", "scale": {"type": "log", "domain": [0.5556, 10], "nice": false}, "axis": null},
     "y": {"field": "v", "type": "quantitative", "scale": {"domain": [12, 40], "nice": false, "zero": false}, "axis": null},
     "color": {"field": "s", "type": "nominal", "scale": {"domain": ["UDP", "TMC"], "range": ["#1a1a1a", "#e8462b"]}}
    }},
   {"data": {"values": [{"x": 2.226, "y": 16.2, "t": "Scheduler: Earliest Deadline First"}, {"x": 2.226, "y": 13.44, "t": "Bandwidth Request: Contention request"}]},
    "mark": {"type": "text", "align": "left", "baseline": "middle", "font": "Liberation Sans", "fontSize": 13.5, "color": "#1a1a1a"},
    "encoding": {
     "x": {"field": "x", "type": "quantitative", "scale": {"type": "log", "domain": [0.5556, 10], "nice": false}, "axis": null},
     "y": {"field": "y", "type": "quantitative", "scale": {"domain": [12, 40], "nice": false, "zero": false}, "axis": null},
     "text": {"field": "t", "type": "nominal"}
    }}
  ],
  "resolve": {"axis": {"x": "independent", "y": "independent"}}
 }
]},
{"width": 506, "height": 40, "view": {"stroke": null}, "data": {"values": [{"c": "d. EDF scheduler"}]},
 "mark": {"type": "text", "font": "Liberation Serif", "fontSize": 26, "baseline": "alphabetic", "dy": 10, "color": "black"},
 "encoding": {"text": {"field": "c", "type": "nominal"}}}
],
"resolve": {"scale": {"color": "independent"}},
"config": {
 "font": "Liberation Sans",
 "view": {"stroke": "black", "strokeWidth": 1},
 "axis": {"domain": false, "grid": false, "tickSize": -4, "tickColor": "black", "tickWidth": 1, "labelColor": "#1a1a1a", "titleColor": "black", "titleFont": "Liberation Serif", "titleFontWeight": "bold", "titleFontSize": 14.5},
 "axisLeft": {"labelFont": "Liberation Sans", "labelFontSize": 12, "labelPadding": 9, "titlePadding": 8.5},
 "axisBottom": {"labelFont": "Liberation Serif", "labelFontSize": 17, "labelPadding": 12, "titlePadding": 0, "labelFlush": false, "labelOverlap": false, "titleX": 281},
 "legend": {"strokeColor": "black", "fillColor": "white", "symbolSize": 100, "symbolStrokeWidth": 1, "labelFont": "Liberation Sans", "labelFontSize": 13.5, "labelColor": "#1a1a1a", "labelLimit": 1000}
}
}
